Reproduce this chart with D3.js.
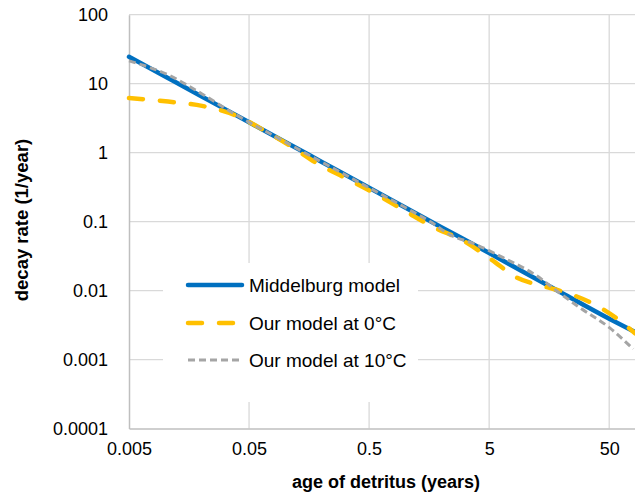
<!DOCTYPE html>
<html>
<head>
<meta charset="utf-8">
<script src="https://cdn.jsdelivr.net/npm/d3@7"></script>
<style>
  body { margin: 0; background: #fff; }
  svg text { font-family: "Liberation Sans", Arial, sans-serif; fill: #000; }
</style>
</head>
<body>
<div id="chart"></div>
<script>
// tick values
var xTicks = [0.005, 0.05, 0.5, 5, 50];
var yTicks = [0.0001, 0.001, 0.01, 0.1, 1, 10, 100];

// Middelburg model
var ageMiddelburg = [0.005, 0.01, 0.02, 0.05, 0.1, 0.2, 0.5, 1, 2, 5, 10, 20, 50, 82];
var rateMiddelburg = [24.5, 12.7, 6.58, 2.75, 1.43, 0.74, 0.31, 0.16, 0.083, 0.035, 0.018, 0.0093, 0.0039, 0.0025];

// Our model at 0°C
var age0C = [0.005, 0.0106, 0.0203, 0.0382, 0.068, 0.11, 0.188, 0.328, 0.561, 1.0, 1.77, 2.98, 5.1, 8.56, 14.1, 23.7, 39.7, 58.3, 82];
var rate0C = [6.2, 5.5, 4.76, 3.5, 2.06, 1.26, 0.685, 0.417, 0.255, 0.142, 0.081, 0.054, 0.029, 0.0153, 0.0116, 0.0089, 0.006, 0.0039, 0.0024];

// Our model at 10°C
var age10C = [0.005, 0.011, 0.0203, 0.0382, 0.068, 0.11, 0.188, 0.328, 0.561, 1.0, 1.77, 2.23, 3.82, 6.54, 12.56, 18.4, 28.7, 50.5, 79.2];
var rate10C = [21.4, 13.0, 7.1, 3.6, 2.06, 1.3, 0.78, 0.46, 0.277, 0.16, 0.09, 0.068, 0.047, 0.03, 0.0162, 0.0098, 0.0056, 0.00288, 0.00142];

var seriesNames = ['Middelburg model', 'Our model at 0°C', 'Our model at 10°C'];

var width = 635, height = 500;
var plot = { left: 129, right: 635, top: 14.7, bottom: 428.5 };

var svg = d3.select('#chart').append('svg')
  .attr('width', width)
  .attr('height', height);

var x = d3.scaleLog()
  .domain([0.005, 82])
  .range([plot.left, plot.right]);

var y = d3.scaleLog()
  .domain([0.0001, 100])
  .range([plot.bottom, plot.top]);

// gridlines
svg.append('g').selectAll('line.gx')
  .data(xTicks.slice(1))
  .join('line')
  .attr('x1', d => x(d)).attr('x2', d => x(d))
  .attr('y1', plot.top).attr('y2', plot.bottom)
  .attr('stroke', '#d9d9d9').attr('stroke-width', 1.3);

svg.append('g').selectAll('line.gy')
  .data(yTicks.slice(1))
  .join('line')
  .attr('x1', plot.left).attr('x2', plot.right)
  .attr('y1', d => y(d)).attr('y2', d => y(d))
  .attr('stroke', '#d9d9d9').attr('stroke-width', 1.3);

// axes (lines only, labels drawn by axis generator)
var xAxis = svg.append('g')
  .attr('transform', 'translate(0,' + plot.bottom + ')')
  .call(d3.axisBottom(x).tickValues(xTicks).tickFormat(d3.format('')).tickSize(0).tickPadding(14));

var yAxis = svg.append('g')
  .attr('transform', 'translate(' + plot.left + ',0)')
  .call(d3.axisLeft(y).tickValues(yTicks).tickFormat(d => d.toString()).tickSize(0).tickPadding(21));

[xAxis, yAxis].forEach(g => {
  g.select('.domain').attr('stroke', '#bfbfbf').attr('stroke-width', 1.5);
  g.selectAll('text').style('font-size', '18px').attr('fill', '#000');
});
xAxis.selectAll('text').attr('dy', '0.71em');

// legend background (hides gridlines behind it)
var legend = { x: 163, y: 263, w: 255, h: 139 };
svg.append('rect')
  .attr('x', legend.x).attr('y', legend.y)
  .attr('width', legend.w).attr('height', legend.h)
  .attr('fill', '#fff');

// series
var styles = [
  { color: '#0070c0', width: 4.5, dash: null, cap: 'round' },
  { color: '#ffc000', width: 4.5, dash: '14,17', cap: 'round' },
  { color: '#a5a5a5', width: 3, dash: '7,4', cap: 'butt' }
];
var seriesData = [
  d3.zip(ageMiddelburg, rateMiddelburg),
  d3.zip(age0C, rate0C),
  d3.zip(age10C, rate10C)
];

var line = d3.line()
  .x(d => x(d[0]))
  .y(d => y(d[1]))
  .curve(d3.curveMonotoneX);

seriesData.forEach((data, i) => {
  svg.append('path')
    .datum(data)
    .attr('d', line)
    .attr('fill', 'none')
    .attr('stroke', styles[i].color)
    .attr('stroke-width', styles[i].width)
    .attr('stroke-linecap', styles[i].cap)
    .attr('stroke-dasharray', styles[i].dash);
});

// legend entries
var rowY = [285, 323, 360];
seriesNames.forEach((name, i) => {
  svg.append('line')
    .attr('x1', 188).attr('x2', 242)
    .attr('y1', rowY[i]).attr('y2', rowY[i])
    .attr('stroke', styles[i].color)
    .attr('stroke-width', styles[i].width)
    .attr('stroke-linecap', styles[i].cap)
    .attr('stroke-dasharray', styles[i].dash);
  svg.append('text')
    .attr('x', 249).attr('y', rowY[i])
    .attr('dy', '0.35em')
    .style('font-size', '19px')
    .text(name);
});

// axis titles
svg.append('text')
  .attr('x', 386).attr('y', 488)
  .attr('text-anchor', 'middle')
  .style('font-size', '18px')
  .style('font-weight', 'bold')
  .text('age of detritus (years)');

svg.append('text')
  .attr('transform', 'translate(28,220) rotate(-90)')
  .attr('text-anchor', 'middle')
  .style('font-size', '18.5px')
  .style('font-weight', 'bold')
  .text('decay rate (1/year)');
</script>
</body>
</html>
